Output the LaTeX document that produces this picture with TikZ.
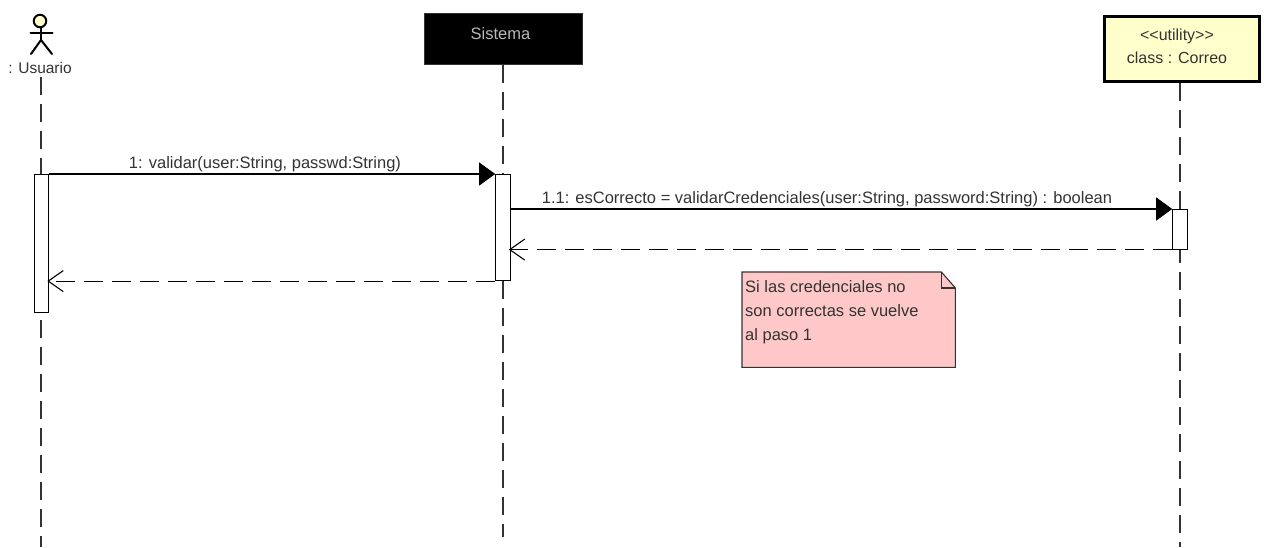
\documentclass[tikz,border=0pt]{standalone}
\usepackage{fontspec}
\setmainfont{Liberation Sans}
\usetikzlibrary{arrows.meta,calc}
\definecolor{ink}{gray}{0.2}
\definecolor{classfill}{HTML}{FFFFCC}
\definecolor{notefill}{HTML}{FFC8C8}
\tikzset{
  x=1pt,y=-1pt,
  lbl/.style={font=\fontsize{16.5}{20}\selectfont,text=ink,inner sep=0pt},
  lifeline/.style={draw=ink,line width=1.2pt,dash pattern=on 18pt off 9pt},
  barbox/.style={draw=black,fill=white,line width=1.1pt,minimum width=14.5pt,inner sep=0pt,anchor=north},
  callarrow/.style={draw=black,line width=1.1pt,-{Triangle[length=16pt,width=23pt]}},
  retarrow/.style={draw=black,line width=1.1pt,dash pattern=on 19pt off 9pt,shorten >=-2pt,-{Straight Barb[length=15pt,width=21pt,line width=1.1pt]}},
  actorline/.style={draw=black,line width=2pt,line cap=round},
}
\begin{document}
\begin{tikzpicture}
\useasboundingbox (0,0) rectangle (1264,547);
% heads of the lifelines
\node[lbl,anchor=center,font=\fontsize{15.5}{20}\selectfont] (user) at (40,68) {: Usuario};
\node[fill=black,draw=ink,line width=.6pt,minimum width=158pt,minimum height=51pt,inner sep=0pt,anchor=north west] (sys) at (424,13) {};
\node[lbl,text=white!72!black,anchor=base] (systxt) at (500.5,39) {Sistema};
\node[fill=classfill,draw=black,line width=3pt,minimum width=155pt,minimum height=65pt,inner sep=0pt,anchor=north west] (corr) at (1103,15) {};
\node[lbl,align=center,anchor=center,font=\fontsize{16}{23}\selectfont] (corrtxt) at (1177,46.5) {<{}<utility>{}>\\class : Correo};
% free ends of the lifelines
\coordinate (userEnd) at (41,547);
\coordinate (sysEnd) at (503,537);
\coordinate (corrEnd) at (1180,547);
\draw[lifeline] (41,77) -- (userEnd);
\draw[lifeline] (sys.south -| sysEnd) -- (sysEnd);
\draw[lifeline] (corr.south -| corrEnd) -- (corrEnd);
% actor
\coordinate (neck) at (41,28);
\coordinate (hip) at (41,40);
\draw[actorline] (neck) -- (hip);
\draw[actorline] (30.5,32.5) -- (52.5,32.5);
\draw[actorline] (31,54) -- (hip) -- (52,54);
\node[circle,draw=black,fill=classfill,line width=2pt,minimum size=12.5pt,inner sep=0pt] (head) at (40,21) {};
% activation bars
\node[barbox,minimum height=138pt] (userBar) at (41.5,174) {};
\node[barbox,minimum height=106pt] (sysBar) at (503,174) {};
\node[barbox,minimum height=39.5pt] (corrBar) at (1180,209) {};
% messages
\draw[callarrow] (userBar.north east) -- (sysBar.north west);
\node[lbl,anchor=base] (m1) at (265,168) {1: validar(user:String, passwd:String)};
\draw[callarrow] (sysBar.east |- corrBar.north) -- (corrBar.north west);
\node[lbl,anchor=base] (m2) at (827,203) {1.1: esCorrecto = validarCredenciales(user:String, password:String) : boolean};
\draw[retarrow] (corrBar.south west) -- (sysBar.east |- corrBar.south);
\draw[retarrow] (sysBar.south west) -- (userBar.east |- sysBar.south);
% note
\node[minimum width=213pt,minimum height=95pt,inner sep=0pt,anchor=north west] (noteBox) at (742,272) {};
\draw[draw=ink,fill=notefill,line width=1.1pt]
  (noteBox.north west) -- ($(noteBox.north east)+(-14,0)$) -- ($(noteBox.north east)+(0,16)$) -- (noteBox.south east) -- (noteBox.south west) -- cycle;
\draw[draw=ink,line width=1.1pt] ($(noteBox.north east)+(-14,0)$) -- ($(noteBox.north east)+(-14,16)$) -- ($(noteBox.north east)+(0,16)$);
\node[lbl,align=left,anchor=north west,font=\fontsize{16.5}{24}\selectfont] (noteTxt) at (745,280) {Si las credenciales no\\son correctas se vuelve\\al paso 1};
\end{tikzpicture}
\end{document}
